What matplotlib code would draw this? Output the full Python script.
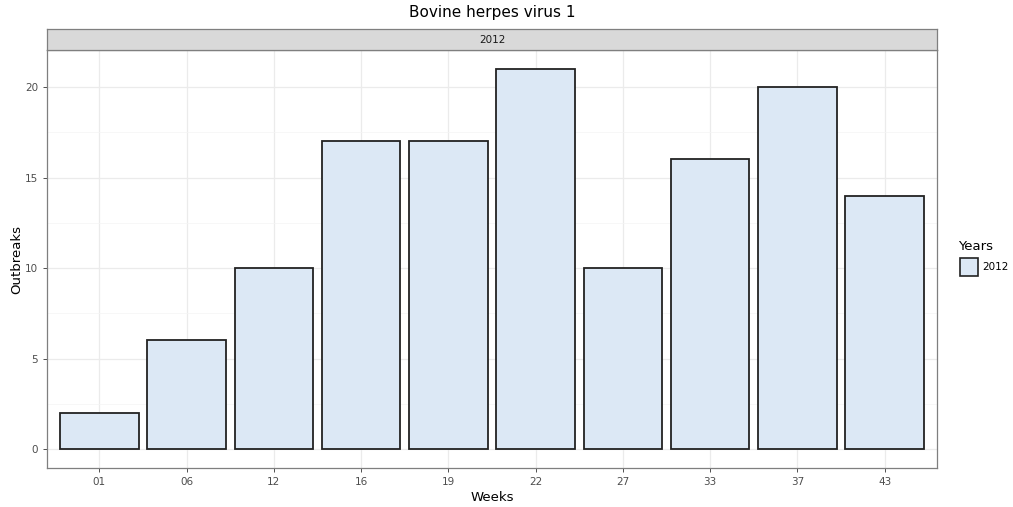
import matplotlib.pyplot as plt
from matplotlib.patches import Rectangle
import numpy as np

# data
weeks = ['01', '06', '12', '16', '19', '22', '27', '33', '37', '43']
outbreaks = [2, 6, 10, 17, 17, 21, 10, 16, 20, 14]
year = '2012'
y_ticks = [0, 5, 10, 15, 20]

fill = '#dce8f5'
W, H = 1013, 507

fig = plt.figure(figsize=(W / 100, H / 100), dpi=100)

# panel
left, right, top, bottom = 47, 937, 50, 468
ax = fig.add_axes([left / W, 1 - bottom / H, (right - left) / W, (bottom - top) / H])
x = np.arange(len(weeks))
ax.bar(x, outbreaks, width=0.9, color=fill, edgecolor='#222222', linewidth=1.3, zorder=3)
ax.set_xlim(-0.6, len(weeks) - 0.4)
ax.set_ylim(-1.05, 22.05)
ax.set_xticks(x)
ax.set_xticklabels(weeks)
ax.set_yticks(y_ticks)
ax.set_yticks([2.5, 7.5, 12.5, 17.5], minor=True)
ax.grid(True, which='major', color='#ebebeb', linewidth=0.9, zorder=0)
ax.grid(True, which='minor', axis='y', color='#f4f4f4', linewidth=0.5, zorder=0)
ax.tick_params(axis='both', which='major', labelsize=7.5, labelcolor='#4d4d4d',
               color='#333333', length=3, width=0.6)
ax.tick_params(axis='y', which='minor', length=0)
for s in ax.spines.values():
    s.set_color('#7f7f7f')
    s.set_linewidth(0.9)
ax.set_xlabel('Weeks', fontsize=9.5, labelpad=3)
ax.set_ylabel('Outbreaks', fontsize=9.5, labelpad=1)

# facet strip
strip_top = 29
sax = fig.add_axes([left / W, 1 - top / H, (right - left) / W, (top - strip_top) / H])
sax.set_facecolor('#d9d9d9')
sax.set_xticks([])
sax.set_yticks([])
for s in sax.spines.values():
    s.set_color('#7f7f7f')
    s.set_linewidth(0.9)
sax.text(0.5, 0.5, year, ha='center', va='center', fontsize=7.5, color='#1a1a1a',
         transform=sax.transAxes)

# title
fig.text((left + right) / 2 / W, 1 - 12 / H, 'Bovine herpes virus 1', ha='center', va='center',
         fontsize=11)

# legend
fig.text(958 / W, 1 - 247 / H, 'Years', ha='left', va='center', fontsize=9.5)
fig.patches.append(Rectangle((960 / W, 1 - 276 / H), 18 / W, 18 / H, transform=fig.transFigure,
                             facecolor=fill, edgecolor='#222222', linewidth=1.2))
fig.text(982 / W, 1 - 267 / H, year, ha='left', va='center', fontsize=7.5)

fig.savefig('out.png', dpi=100)
